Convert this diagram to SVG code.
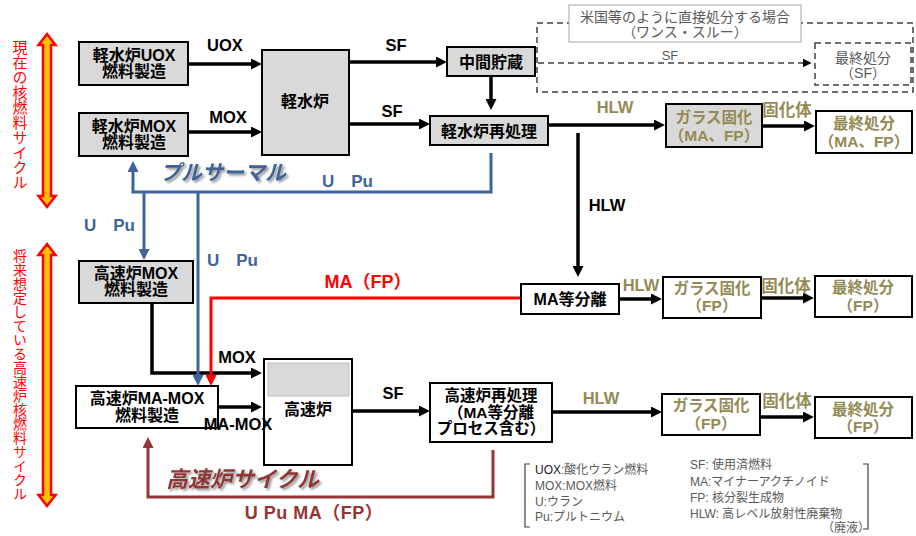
<svg xmlns="http://www.w3.org/2000/svg" width="916" height="536" viewBox="0 0 916 536">
<style>
text{font-family:"Liberation Sans","Noto Sans CJK JP",sans-serif}
.n{font-size:16px;font-weight:bold;fill:#000;text-anchor:middle;dominant-baseline:central}
.o{font-size:15.5px;font-weight:bold;fill:#948a54;text-anchor:middle;dominant-baseline:central}
.box{fill:#fff;stroke:#000;stroke-width:2}
.gbox{fill:#d9d9d9;stroke:#000;stroke-width:2}
.lb{font-size:16.5px;font-weight:bold;fill:#000;text-anchor:middle;dominant-baseline:central}
.lo{font-size:16.5px;font-weight:bold;fill:#948a54;text-anchor:middle;dominant-baseline:central}
.lblue{font-size:17px;font-weight:bold;fill:#3e6499;dominant-baseline:central}
.ck{fill:none;stroke:#000;stroke-width:3.5}
.cb{fill:none;stroke:#3e6499;stroke-width:3}
.cr{fill:none;stroke:#ff0000;stroke-width:3}
.cbr{fill:none;stroke:#943634;stroke-width:3}
.cd{fill:none;stroke:#404040;stroke-width:1.5;stroke-dasharray:6 4}
.gt{font-size:14px;fill:#595959;text-anchor:middle;dominant-baseline:central}
.lg{font-size:12px;fill:#595959;dominant-baseline:central}
.vt{font-size:15px;fill:#ff0000;writing-mode:vertical-rl}
.dbl{fill:#ffc000;stroke:#ff0000;stroke-width:2.5;stroke-linejoin:miter}
</style>
<defs>
<marker id="ak" viewBox="0 0 10 10" refX="6.4" refY="5" markerWidth="11" markerHeight="11" markerUnits="userSpaceOnUse" orient="auto"><path d="M0,0 L10,5 L0,10 z" fill="#000"/></marker>
<marker id="ab" viewBox="0 0 10 10" refX="6.4" refY="5" markerWidth="11" markerHeight="11" markerUnits="userSpaceOnUse" orient="auto"><path d="M0,0 L10,5 L0,10 z" fill="#3e6499"/></marker>
<marker id="ar" viewBox="0 0 10 10" refX="6.4" refY="5" markerWidth="11" markerHeight="11" markerUnits="userSpaceOnUse" orient="auto"><path d="M0,0 L10,5 L0,10 z" fill="#ff0000"/></marker>
<marker id="abr" viewBox="0 0 10 10" refX="6.4" refY="5" markerWidth="11" markerHeight="11" markerUnits="userSpaceOnUse" orient="auto"><path d="M0,0 L10,5 L0,10 z" fill="#943634"/></marker>
<marker id="ad" viewBox="0 0 10 10" refX="6" refY="5" markerWidth="9" markerHeight="9" markerUnits="userSpaceOnUse" orient="auto"><path d="M0,0 L10,5 L0,10 z" fill="#000"/></marker>
<filter id="sh" x="-10%" y="-30%" width="130%" height="170%"><feDropShadow dx="2" dy="2" stdDeviation="1" flood-color="#808080" flood-opacity="0.8"/></filter>
</defs>

<g id="side-labels">
<polygon class="dbl" points="47,34 55.5,45 51,45 51,196 55.5,196 47,207 38.5,196 43,196 43,45 38.5,45"/>
<text class="vt" x="19" y="40">現在の核燃料サイクル</text>
<polygon class="dbl" points="47,244 55.5,255 51,255 51,495 55.5,495 47,506 38.5,495 43,495 43,255 38.5,255"/>
<text class="vt" x="19" y="249" style="font-size:14px">将来想定している高速炉核燃料サイクル</text>
</g>

<g id="once-through">
<rect class="cd" x="537" y="23" width="376" height="69"/>
<rect x="569" y="5" width="232" height="37" fill="#fff" stroke="#a6a6a6" stroke-width="1"/>
<text class="gt" x="685" y="17">米国等のように直接処分する場合</text>
<text class="gt" x="685" y="32">（ワンス・スルー）</text>
</g>

<g id="connectors">
<path class="ck" d="M189,64 H258" marker-end="url(#ak)"/>
<path class="ck" d="M189,132 H258" marker-end="url(#ak)"/>
<path class="ck" d="M350,62 H443" marker-end="url(#ak)"/>
<path class="ck" d="M350,124 H426" marker-end="url(#ak)"/>
<path class="ck" d="M491,77 V106" marker-end="url(#ak)"/>
<path class="ck" d="M549,125 H661" marker-end="url(#ak)"/>
<path class="ck" d="M763,126 H811" marker-end="url(#ak)"/>
<path class="ck" d="M578,133 V273" marker-end="url(#ak)"/>
<path class="ck" d="M620,299 H658" marker-end="url(#ak)"/>
<path class="ck" d="M762,298 H810" marker-end="url(#ak)"/>
<path class="ck" d="M152,304 V373 H258" marker-end="url(#ak)"/>
<path class="ck" d="M219,407 H258" marker-end="url(#ak)"/>
<path class="ck" d="M353,411 H426" marker-end="url(#ak)"/>
<path class="ck" d="M553,412 H658" marker-end="url(#ak)"/>
<path class="ck" d="M761,417 H810" marker-end="url(#ak)"/>
<path class="cd" d="M538,63 H808" marker-end="url(#ad)"/>
<path class="cb" d="M491,153 V192 H133 V165" marker-end="url(#ab)"/>
<path class="cb" d="M144,192 V256" marker-end="url(#ab)"/>
<path class="cb" d="M198,192 V382" marker-end="url(#ab)"/>
<path class="cr" d="M521,298 H211 V382" marker-end="url(#ar)"/>
<path class="cbr" d="M493,450 V497 H148 V441" marker-end="url(#abr)"/>
</g>

<g id="n-lwr-uox">
<rect class="gbox" x="79" y="42" width="109" height="43"/>
<text class="n" x="134" y="55">軽水炉UOX</text>
<text class="n" x="134" y="71">燃料製造</text>
</g>
<g id="n-lwr-mox">
<rect class="gbox" x="79" y="113" width="109" height="43"/>
<text class="n" x="134" y="126">軽水炉MOX</text>
<text class="n" x="134" y="142">燃料製造</text>
</g>
<g id="n-lwr">
<rect class="gbox" x="262" y="50" width="87" height="105"/>
<text class="n" x="305" y="101">軽水炉</text>
</g>
<g id="n-interim">
<rect class="gbox" x="447" y="47" width="88" height="29"/>
<text class="n" x="491" y="62">中間貯蔵</text>
</g>
<g id="n-lwr-repro">
<rect class="gbox" x="430" y="116" width="118" height="29"/>
<text class="n" x="489" y="131">軽水炉再処理</text>
</g>
<g id="n-disposal-sf">
<rect class="cd" x="815" y="43" width="96" height="42"/>
<text class="gt" x="863" y="58">最終処分</text>
<text class="gt" x="863" y="73">（SF）</text>
</g>
<g id="n-vitr-1">
<rect class="gbox" x="666" y="104" width="96" height="43"/>
<text class="o" x="714" y="117">ガラス固化</text>
<text class="o" x="714" y="135">（MA、FP）</text>
</g>
<g id="n-disp-1">
<rect class="box" x="816" y="111" width="96" height="42"/>
<text class="o" x="864" y="123">最終処分</text>
<text class="o" x="864" y="141">（MA、FP）</text>
</g>
<g id="n-fr-mox">
<rect class="gbox" x="79" y="261" width="114" height="42"/>
<text class="n" x="136" y="273">高速炉MOX</text>
<text class="n" x="136" y="289">燃料製造</text>
</g>
<g id="n-ma-sep">
<rect class="box" x="521" y="284" width="98" height="30"/>
<text class="n" x="570" y="299">MA等分離</text>
</g>
<g id="n-vitr-2">
<rect class="box" x="663" y="277" width="98" height="41"/>
<text class="o" x="712" y="288">ガラス固化</text>
<text class="o" x="712" y="305">（FP）</text>
</g>
<g id="n-disp-2">
<rect class="box" x="815" y="276" width="97" height="41"/>
<text class="o" x="863" y="287">最終処分</text>
<text class="o" x="863" y="305">（FP）</text>
</g>
<g id="n-fr-mamox">
<rect class="box" x="76" y="386" width="142" height="42"/>
<text class="n" x="147" y="398">高速炉MA-MOX</text>
<text class="n" x="147" y="415">燃料製造</text>
</g>
<g id="n-fr">
<rect class="box" x="264" y="359" width="88" height="106"/>
<rect x="268" y="363" width="81" height="33" fill="#d9d9d9" stroke="#bfbfbf" stroke-width="1"/>
<text class="n" x="308" y="409">高速炉</text>
</g>
<g id="n-fr-repro">
<rect class="box" x="430" y="383" width="122" height="59"/>
<text class="n" x="491" y="395" style="font-size:15.5px">高速炉再処理</text>
<text class="n" x="491" y="412" style="font-size:15.5px">（MA等分離</text>
<text class="n" x="491" y="428" style="font-size:15.5px">プロセス含む）</text>
</g>
<g id="n-vitr-3">
<rect class="box" x="662" y="394" width="98" height="41"/>
<text class="o" x="711" y="405">ガラス固化</text>
<text class="o" x="711" y="423">（FP）</text>
</g>
<g id="n-disp-3">
<rect class="box" x="815" y="397" width="97" height="41"/>
<text class="o" x="863" y="409">最終処分</text>
<text class="o" x="863" y="426">（FP）</text>
</g>

<g id="connector-labels">
<text class="lb" x="225" y="45">UOX</text>
<text class="lb" x="228" y="117">MOX</text>
<text class="lb" x="396" y="45">SF</text>
<text class="lb" x="392" y="111">SF</text>
<text class="lo" x="615" y="107">HLW</text>
<text class="lo" x="787" y="110">固化体</text>
<text class="lb" x="607" y="205">HLW</text>
<text class="lo" x="641" y="285">HLW</text>
<text class="lo" x="786" y="286">固化体</text>
<text class="lb" x="237" y="357">MOX</text>
<text class="lb" x="238" y="424">MA-MOX</text>
<text class="lb" x="393" y="393">SF</text>
<text class="lo" x="601" y="398">HLW</text>
<text class="lo" x="787" y="401">固化体</text>
<text x="670" y="55" style="font-size:13px;fill:#595959;text-anchor:middle;dominant-baseline:central">SF</text>
<text class="lblue" x="322" y="181">U　Pu</text>
<text class="lblue" x="84" y="225">U　Pu</text>
<text class="lblue" x="207" y="260">U　Pu</text>
<text x="368" y="282" style="font-size:18px;font-weight:bold;fill:#ff0000;text-anchor:middle;dominant-baseline:central">MA（FP）</text>
<text x="314" y="513" style="font-size:18px;font-weight:bold;fill:#943634;text-anchor:middle;dominant-baseline:central;letter-spacing:0.5px">U Pu MA（FP）</text>
<text x="160" y="172" filter="url(#sh)" style="font-size:21px;font-weight:bold;font-style:italic;fill:#3e6499;dominant-baseline:central">プルサーマル</text>
<text x="166" y="479" filter="url(#sh)" style="font-size:22px;font-weight:bold;font-style:italic;fill:#943634;dominant-baseline:central">高速炉サイクル</text>
</g>

<g id="legend">
<path d="M530,464 H525 V527 H530" fill="none" stroke="#404040" stroke-width="1.2"/>
<path d="M863,464 H868 V529 H863" fill="none" stroke="#404040" stroke-width="1.2"/>
<text class="lg" x="535" y="470"><tspan fill="#222">UOX</tspan>:酸化ウラン燃料</text>
<text class="lg" x="535" y="486">MOX:MOX燃料</text>
<text class="lg" x="535" y="502">U:ウラン</text>
<text class="lg" x="535" y="517">Pu:プルトニウム</text>
<text class="lg" x="690" y="465">SF: 使用済燃料</text>
<text class="lg" x="690" y="482">MA:マイナーアクチノイド</text>
<text class="lg" x="690" y="498">FP: 核分裂生成物</text>
<text class="lg" x="690" y="514">HLW: 高レベル放射性廃棄物</text>
<text class="lg" x="822" y="528">（廃液）</text>
</g>
</svg>
